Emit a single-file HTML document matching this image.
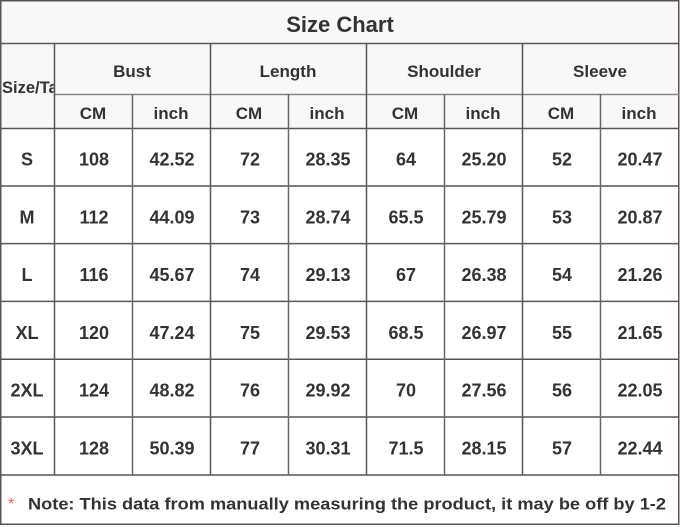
<!DOCTYPE html>
<html><head><meta charset="utf-8"><style>
html,body{margin:0;padding:0;background:#fff;}
svg{display:block;}
text{font-family:"Liberation Sans",sans-serif;font-weight:bold;fill:#333;}
</style></head><body>
<svg width="680" height="527" viewBox="0 0 680 527" xmlns="http://www.w3.org/2000/svg">
<rect x="0" y="0" width="680" height="527" fill="#fff"/>
<rect x="0.5" y="0.5" width="678.5" height="128" fill="#f8f8f8"/>
<g stroke="#5a5454" stroke-width="1.5" fill="none">
<rect x="0.75" y="0.75" width="678" height="523.5"/>
<line x1="0" y1="43.5" x2="679" y2="43.5"/>
<line x1="54" y1="94.5" x2="679" y2="94.5" stroke="#8a8585"/>
<line x1="0" y1="128.5" x2="679" y2="128.5"/>
<line x1="0" y1="186" x2="679" y2="186"/>
<line x1="0" y1="243.6" x2="679" y2="243.6"/>
<line x1="0" y1="301.4" x2="679" y2="301.4"/>
<line x1="0" y1="359.2" x2="679" y2="359.2"/>
<line x1="0" y1="417" x2="679" y2="417"/>
<line x1="0" y1="475" x2="679" y2="475"/>
<line x1="54.5" y1="43" x2="54.5" y2="475"/>
<line x1="210.5" y1="43" x2="210.5" y2="475"/>
<line x1="366.5" y1="43" x2="366.5" y2="475"/>
<line x1="522.5" y1="43" x2="522.5" y2="475"/>
<line x1="132.5" y1="94" x2="132.5" y2="475" stroke="#6a6565"/>
<line x1="288.5" y1="94" x2="288.5" y2="475" stroke="#6a6565"/>
<line x1="444.5" y1="94" x2="444.5" y2="475" stroke="#6a6565"/>
<line x1="600.5" y1="94" x2="600.5" y2="475" stroke="#6a6565"/>
</g>
<text x="340" y="32" font-size="22" text-anchor="middle">Size Chart</text>
<svg x="0" y="43" width="54" height="85"><text x="2" y="50" font-size="16.5">Size/Tag</text></svg>
<g font-size="17" text-anchor="middle">
<text x="132" y="77">Bust</text>
<text x="288" y="77">Length</text>
<text x="444" y="77">Shoulder</text>
<text x="600" y="77">Sleeve</text>
<text x="93" y="119">CM</text><text x="171" y="119">inch</text>
<text x="249" y="119">CM</text><text x="327" y="119">inch</text>
<text x="405" y="119">CM</text><text x="483" y="119">inch</text>
<text x="561" y="119">CM</text><text x="639" y="119">inch</text>
</g>
<g font-size="18" text-anchor="middle">
<text x="27" y="165.5">S</text><text x="94" y="165.5">108</text><text x="172" y="165.5">42.52</text><text x="250" y="165.5">72</text><text x="328" y="165.5">28.35</text><text x="406" y="165.5">64</text><text x="484" y="165.5">25.20</text><text x="562" y="165.5">52</text><text x="640" y="165.5">20.47</text>
<text x="27" y="223.3">M</text><text x="94" y="223.3">112</text><text x="172" y="223.3">44.09</text><text x="250" y="223.3">73</text><text x="328" y="223.3">28.74</text><text x="406" y="223.3">65.5</text><text x="484" y="223.3">25.79</text><text x="562" y="223.3">53</text><text x="640" y="223.3">20.87</text>
<text x="27" y="281.1">L</text><text x="94" y="281.1">116</text><text x="172" y="281.1">45.67</text><text x="250" y="281.1">74</text><text x="328" y="281.1">29.13</text><text x="406" y="281.1">67</text><text x="484" y="281.1">26.38</text><text x="562" y="281.1">54</text><text x="640" y="281.1">21.26</text>
<text x="27" y="338.9">XL</text><text x="94" y="338.9">120</text><text x="172" y="338.9">47.24</text><text x="250" y="338.9">75</text><text x="328" y="338.9">29.53</text><text x="406" y="338.9">68.5</text><text x="484" y="338.9">26.97</text><text x="562" y="338.9">55</text><text x="640" y="338.9">21.65</text>
<text x="27" y="396.7">2XL</text><text x="94" y="396.7">124</text><text x="172" y="396.7">48.82</text><text x="250" y="396.7">76</text><text x="328" y="396.7">29.92</text><text x="406" y="396.7">70</text><text x="484" y="396.7">27.56</text><text x="562" y="396.7">56</text><text x="640" y="396.7">22.05</text>
<text x="27" y="454.5">3XL</text><text x="94" y="454.5">128</text><text x="172" y="454.5">50.39</text><text x="250" y="454.5">77</text><text x="328" y="454.5">30.31</text><text x="406" y="454.5">71.5</text><text x="484" y="454.5">28.15</text><text x="562" y="454.5">57</text><text x="640" y="454.5">22.44</text>
</g>
<text x="8" y="509" font-size="16" style="font-weight:normal;fill:#f55">*</text>
<text x="28" y="509.5" font-size="17" textLength="638" lengthAdjust="spacingAndGlyphs">Note: This data from manually measuring the product, it may be off by 1-2</text>
</svg>
</body></html>
